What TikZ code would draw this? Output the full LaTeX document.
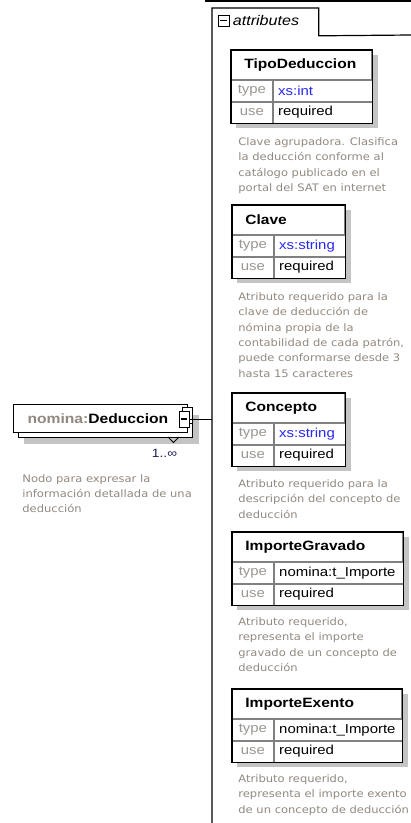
\documentclass[tikz,border=0pt]{standalone}
\usepackage{fontspec}
\setmainfont{Liberation Sans}[FakeStretch=1.15]
\newfontfamily\descfont{DejaVu Sans}[FakeStretch=1.12]
\usetikzlibrary{positioning,backgrounds}

\definecolor{descgray}{RGB}{145,136,128}
\definecolor{keygray}{RGB}{155,150,145}
\definecolor{typeblue}{RGB}{40,40,245}
\definecolor{shadowgray}{RGB}{196,196,196}
\definecolor{linegray}{RGB}{128,128,128}
\definecolor{occurblue}{RGB}{30,30,90}

\begin{document}
\begin{tikzpicture}[x=1pt,y=-1pt,line width=0.8pt,
  attrtitle/.style={draw=linegray,fill=white,anchor=north west,minimum height=29pt,
      inner xsep=13pt,inner ysep=0pt,text width=#1,align=left,font=\fontsize{13.5}{15}\selectfont\bfseries},
  attrkey/.style={draw=linegray,fill=white,minimum width=41pt,minimum height=21pt,
      inner sep=0pt,text=keygray,font=\fontsize{13}{15}\selectfont},
  attrval/.style={draw=linegray,fill=white,minimum height=21pt,inner xsep=5pt,inner ysep=0pt,
      text width=#1,align=left,font=\fontsize{13}{15}\selectfont},
  boxline/.style={draw=black,line width=1.3pt},
  boxshadow/.style={fill=shadowgray},
  desc/.style={anchor=north west,inner sep=0pt,align=left,text=descgray,
      font=\descfont\fontsize{10.3}{15.3}\selectfont},
  elembox/.style={draw=black,fill=white,line width=1pt,anchor=north west,minimum height=28pt,
      inner xsep=14pt,inner ysep=0pt,text width=146pt,align=left,font=\fontsize{13.6}{15}\selectfont\bfseries},
  expander/.style={draw=black,fill=white,line width=0.9pt,minimum width=10pt,minimum height=16pt,inner sep=0pt},
  frameline/.style={draw=black,line width=1.2pt}]

\useasboundingbox (0,0) rectangle (411,823);

% attributes frame
\draw[line width=1.5pt] (205,0.75) -- (411,0.75);
\node[anchor=north west,minimum width=106pt,minimum height=27pt,inner sep=0pt] (attrtab) at (212,8) {};
\coordinate (framebottom) at (212,823);
\coordinate (tabright) at (411,35);
\draw[frameline] (framebottom) -- (attrtab.north west) -- (attrtab.north east) -- (attrtab.south east) -- (tabright);
\node[draw=black,fill=white,line width=0.9pt,minimum width=11pt,minimum height=11pt,inner sep=0pt] (tabminus) at (223.5,20.5) {\rule{7pt}{1.3pt}};
\node[right=3pt of tabminus,inner sep=0pt,font=\fontsize{14}{15}\selectfont\itshape] (tabtext) {attributes};

% element
\node[elembox] (dedback) at (17.5,409) {};
\node[elembox] (deduccion) at (13,404) {\textcolor{descgray}{nomina:}Deduccion};
\node[expander] (dedexpback) at (187,415) {};
\node[expander] (dedexp) at (184,419) {\rule{6pt}{1.2pt}};
\draw (168,437) -- (173.5,442.5) -- (179,437);
\node[inner sep=0pt,text=occurblue,font=\fontsize{12}{14}\selectfont] (dedocc) at (164.5,453) {1..∞};
\node[desc,below right=41pt and 9pt of deduccion.south west] (deddesc)
  {Nodo para expresar la\\información detallada de una\\deducción};
\draw[line width=1pt] (dedexp.east) -- (dedexp.east -| attrtab.west);

% TipoDeduccion
\path (231,50) node[attrtitle=114pt] (tipotitle) {TipoDeduccion}
  node[attrkey,below=0pt of tipotitle.south west,anchor=north west] (tipotype) {type}
  node[attrval=89pt,right=0pt of tipotype] (tipotypeval) {\textcolor{typeblue}{xs:int}}
  node[attrkey,below=0pt of tipotype.south west,anchor=north west] (tipouse) {use}
  node[attrval=89pt,right=0pt of tipouse] (tipouseval) {required};
\draw[boxline] (tipotitle.north west) rectangle (tipouseval.south east);
\node[desc,below right=14pt and 7pt of tipouse.south west] (tipodesc)
  {Clave agrupadora. Clasifica\\la deducción conforme al\\catálogo publicado en el\\portal del SAT en internet};

% Clave
\path (232,205) node[attrtitle=86pt] (clavetitle) {Clave}
  node[attrkey,below=0pt of clavetitle.south west,anchor=north west] (clavetype) {type}
  node[attrval=61pt,right=0pt of clavetype] (clavetypeval) {\textcolor{typeblue}{xs:string}}
  node[attrkey,below=0pt of clavetype.south west,anchor=north west] (claveuse) {use}
  node[attrval=61pt,right=0pt of claveuse] (claveuseval) {required};
\draw[boxline] (clavetitle.north west) rectangle (claveuseval.south east);
\node[desc,below right=14pt and 6pt of claveuse.south west] (clavedesc)
  {Atributo requerido para la\\clave de deducción de\\nómina propia de la\\contabilidad de cada patrón,\\puede conformarse desde 3\\hasta 15 caracteres};

% Concepto
\path (232,393) node[attrtitle=86pt] (conceptotitle) {Concepto}
  node[attrkey,below=0pt of conceptotitle.south west,anchor=north west] (conceptotype) {type}
  node[attrval=61pt,right=0pt of conceptotype] (conceptotypeval) {\textcolor{typeblue}{xs:string}}
  node[attrkey,below=0pt of conceptotype.south west,anchor=north west] (conceptouse) {use}
  node[attrval=61pt,right=0pt of conceptouse] (conceptouseval) {required};
\draw[boxline] (conceptotitle.north west) rectangle (conceptouseval.south east);
\node[desc,below right=13pt and 6pt of conceptouse.south west] (conceptodesc)
  {Atributo requerido para la\\descripción del concepto de\\deducción};

% ImporteGravado
\path (232,532) node[attrtitle=144pt] (gravadotitle) {ImporteGravado}
  node[attrkey,below=0pt of gravadotitle.south west,anchor=north west] (gravadotype) {type}
  node[attrval=119pt,right=0pt of gravadotype] (gravadotypeval) {nomina:t\_Importe}
  node[attrkey,below=0pt of gravadotype.south west,anchor=north west] (gravadouse) {use}
  node[attrval=119pt,right=0pt of gravadouse] (gravadouseval) {required};
\draw[boxline] (gravadotitle.north west) rectangle (gravadouseval.south east);
\node[desc,below right=12pt and 6pt of gravadouse.south west] (gravadodesc)
  {Atributo requerido,\\representa el importe\\gravado de un concepto de\\deducción};

% ImporteExento
\path (232,689) node[attrtitle=143pt] (exentotitle) {ImporteExento}
  node[attrkey,below=0pt of exentotitle.south west,anchor=north west] (exentotype) {type}
  node[attrval=118pt,right=0pt of exentotype] (exentotypeval) {nomina:t\_Importe}
  node[attrkey,below=0pt of exentotype.south west,anchor=north west] (exentouse) {use}
  node[attrval=118pt,right=0pt of exentouse] (exentouseval) {required};
\draw[boxline] (exentotitle.north west) rectangle (exentouseval.south east);
\node[desc,below right=12pt and 6pt of exentouse.south west] (exentodesc)
  {Atributo requerido,\\representa el importe exento\\de un concepto de deducción};

% shadows
\begin{scope}[on background layer]
  \fill[boxshadow] ([shift={(6,6)}]dedback.north west) rectangle ([shift={(6,6)}]dedback.south east);
  \fill[boxshadow] ([shift={(5,5)}]tipotitle.north west) rectangle ([shift={(5,5)}]tipouseval.south east);
  \fill[boxshadow] ([shift={(5,5)}]clavetitle.north west) rectangle ([shift={(5,5)}]claveuseval.south east);
  \fill[boxshadow] ([shift={(5,5)}]conceptotitle.north west) rectangle ([shift={(5,5)}]conceptouseval.south east);
  \fill[boxshadow] ([shift={(5,5)}]gravadotitle.north west) rectangle ([shift={(5,5)}]gravadouseval.south east);
  \fill[boxshadow] ([shift={(5,5)}]exentotitle.north west) rectangle ([shift={(5,5)}]exentouseval.south east);
\end{scope}

\end{tikzpicture}
\end{document}
